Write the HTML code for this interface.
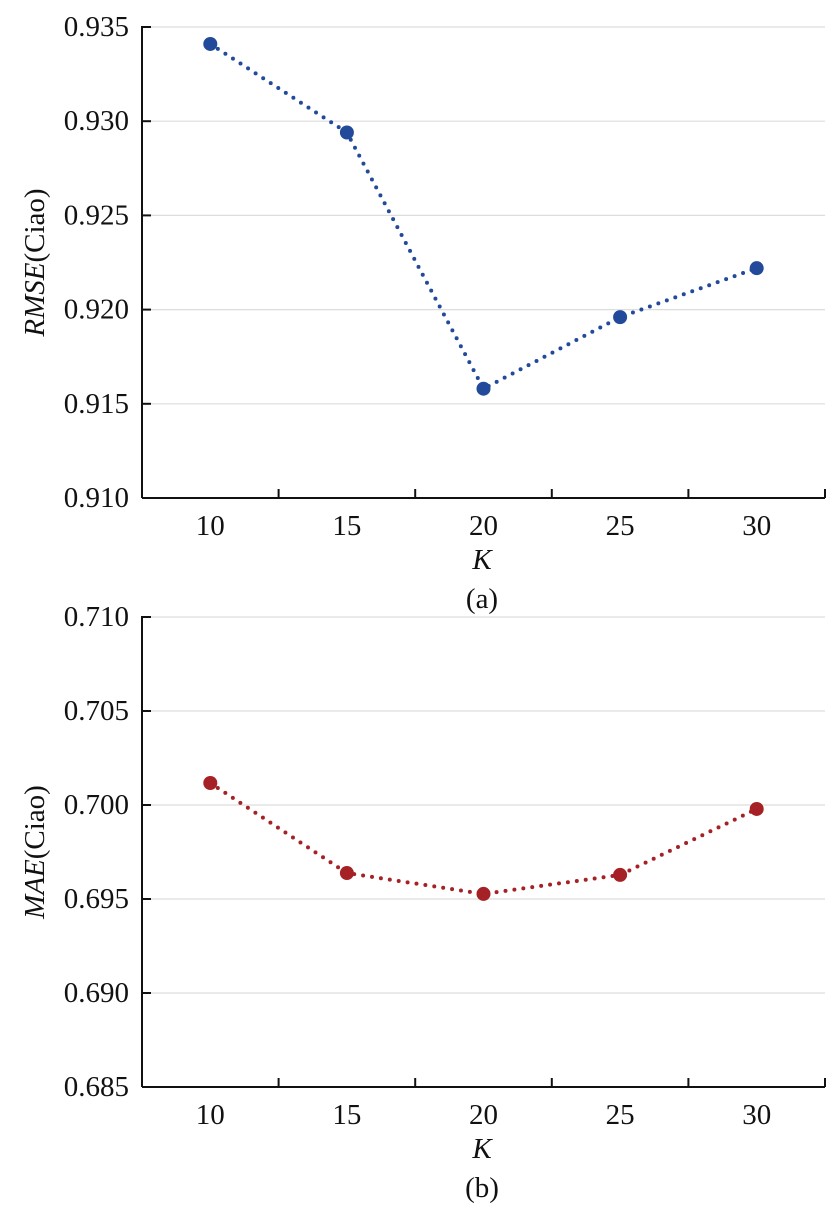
<!DOCTYPE html>
<html><head><meta charset="utf-8"><style>
html,body{margin:0;padding:0;background:#fff}
svg{display:block}
text{font-family:"Liberation Serif",serif;fill:#111}
</style></head><body>
<svg id="c" width="837" height="1213" viewBox="0 0 837 1213"></svg>
<script>
const categories=[10,15,20,25,30];
const rmseValues=[0.9341,0.9294,0.9158,0.9196,0.9222];
const maeValues=[0.70117,0.69638,0.69527,0.69628,0.69979];
const rmseTicks=[0.910,0.915,0.920,0.925,0.930,0.935];
const maeTicks=[0.685,0.690,0.695,0.700,0.705,0.710];
const NS="http://www.w3.org/2000/svg";
const svg=document.getElementById('c');
function mk(t,a,p){const e=document.createElementNS(NS,t);for(const k in a)e.setAttribute(k,a[k]);(p||svg).appendChild(e);return e;}
function panel(o){
  const g=mk('g',{});
  
  
  const x0=142,x1=825,top=o.top,bot=o.bot;
  const lo=o.ticks[0],hi=o.ticks[o.ticks.length-1];
  const ys=v=>bot-(v-lo)/(hi-lo)*(bot-top);
  const bw=(x1-x0)/categories.length;
  const xs=i=>x0+bw*(i+0.5);
  o.ticks.forEach((t,i)=>{
    if(i>0){const gl=mk('line',{x1:x0,x2:x1,y1:ys(t),y2:ys(t),stroke:'#ddd','stroke-width':1.2},g);
      }
    mk('line',{x1:x0,x2:x0+9,y1:ys(t),y2:ys(t),stroke:'#111','stroke-width':2},g);
    const tx=mk('text',{x:x0-13,y:ys(t)+9,'text-anchor':'end','font-size':29},g);
    tx.textContent=t.toFixed(3);
    
  });
  const ya=mk('line',{x1:x0,x2:x0,y1:top-1,y2:bot,stroke:'#111','stroke-width':2},g);
  
  const xa=mk('line',{x1:x0,x2:x1,y1:bot,y2:bot,stroke:'#111','stroke-width':2},g);
  
  categories.forEach((c,i)=>{
    mk('line',{x1:x0+bw*(i+1),x2:x0+bw*(i+1),y1:bot,y2:bot-9,stroke:'#111','stroke-width':2},g);
    const tx=mk('text',{x:xs(i),y:bot+37,'text-anchor':'middle','font-size':29},g);
    tx.textContent=c;
    
  });
  const pts=o.vals.map((v,i)=>xs(i)+','+ys(v)).join(' ');
  const ln=mk('polyline',{points:pts,fill:'none',stroke:o.color,'stroke-width':4,'stroke-dasharray':'0 9','stroke-linecap':'round'},g);
  
  o.vals.forEach((v,i)=>{
    const c=mk('circle',{cx:xs(i),cy:ys(v),r:7,fill:o.color},g);
    
  });
  const yl=mk('text',{transform:`translate(44,${(top+bot)/2}) rotate(-90)`,'text-anchor':'middle','font-size':29},g);
  yl.innerHTML='<tspan font-style="italic">'+o.ylab+'</tspan>(Ciao)';
  
  const xl=mk('text',{x:482,y:bot+71,'text-anchor':'middle','font-size':29,'font-style':'italic'},g);
  xl.textContent='K';
  
  const cap=mk('text',{x:482,y:bot+110,'text-anchor':'middle','font-size':29},g);
  cap.textContent=o.cap;
  
}
panel({name:'rmse-chart',top:27,bot:498,ticks:rmseTicks,vals:rmseValues,color:'#234a9a',ylab:'RMSE',cap:'(a)'});
panel({name:'mae-chart',top:617,bot:1087,ticks:maeTicks,vals:maeValues,color:'#a52125',ylab:'MAE',cap:'(b)'});
</script>
</body></html>
